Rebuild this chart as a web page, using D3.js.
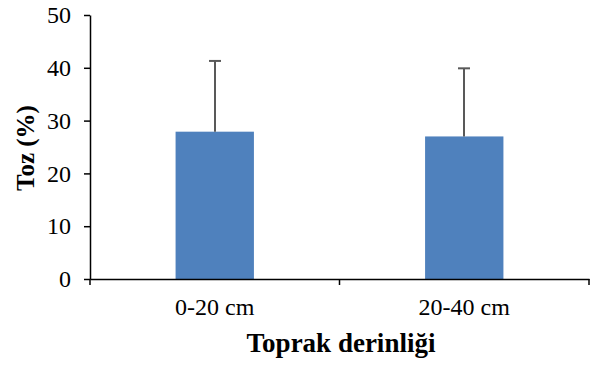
<!DOCTYPE html>
<html><head><meta charset="utf-8">
<script src="https://cdn.jsdelivr.net/npm/d3@7"></script>
<style>body{margin:0;background:#fff}svg{display:block}</style>
</head><body><svg id="c" width="596" height="368"></svg>
<script>
const categories = ["0-20 cm", "20-40 cm"];
const values = [27.9, 27.0];
const errors = [13.4, 12.9];
const yTicks = [0, 10, 20, 30, 40, 50];

const svg = d3.select("#c");
const m = {left: 90, right: 7, top: 15, bottom: 89};
const W = 596, H = 368;
const x = d3.scaleBand().domain(categories).range([m.left, W - m.right]).paddingInner(0.686).paddingOuter(0.343);
const y = d3.scaleLinear().domain([0, 50]).range([H - m.bottom, m.top]);
const font = "'Liberation Serif', 'Times New Roman', serif";

// bars
svg.selectAll("rect.bar").data(categories).enter().append("rect")
  .attr("x", d => x(d)).attr("width", x.bandwidth())
  .attr("y", (d, i) => y(values[i])).attr("height", (d, i) => y(0) - y(values[i]))
  .attr("fill", "#4F81BD");

// error bars
const eg = svg.append("g").attr("stroke", "#595959").attr("stroke-width", 2);
categories.forEach((c, i) => {
  const cx = Math.round(x(c) + x.bandwidth() / 2);
  eg.append("line").attr("x1", cx).attr("x2", cx).attr("y1", y(values[i])).attr("y2", y(values[i] + errors[i]));
  eg.append("line").attr("x1", cx - 6).attr("x2", cx + 6).attr("y1", y(values[i] + errors[i])).attr("y2", y(values[i] + errors[i]));
});

// y axis
const ya = svg.append("g").attr("transform", `translate(${m.left},0)`)
  .call(d3.axisLeft(y).tickValues(yTicks).tickSize(6).tickSizeOuter(0));
ya.select(".domain").attr("stroke", "#000").attr("stroke-width", 1.5);
ya.selectAll(".tick line").attr("stroke", "#000").attr("stroke-width", 1.5);
ya.selectAll(".tick text").attr("font-family", font).attr("font-size", 24).attr("fill", "#000").attr("x", -19);

// x axis
const xa = svg.append("g").attr("transform", `translate(0,${y(0)})`)
  .call(d3.axisBottom(x).tickSize(0).tickSizeOuter(0));
xa.select(".domain").attr("stroke", "#000").attr("stroke-width", 1.5);
xa.selectAll(".tick text").attr("font-family", font).attr("font-size", 24).attr("fill", "#000").attr("dy", 0).attr("y", 36);
// category boundary ticks
const bounds = [m.left, m.left + (W - m.left - m.right) / 2, W - m.right];
xa.selectAll("line.bt").data(bounds).enter().append("line")
  .attr("x1", d => d).attr("x2", d => d).attr("y1", 0).attr("y2", 6)
  .attr("stroke", "#000").attr("stroke-width", 1.5);

// titles
svg.append("text").attr("x", 341).attr("y", 352).attr("text-anchor", "middle")
  .attr("font-family", font).attr("font-weight", "bold").attr("font-size", 27).text("Toprak derinliği");
svg.append("text").attr("transform", "translate(34,148) rotate(-90)").attr("text-anchor", "middle")
  .attr("font-family", font).attr("font-weight", "bold").attr("font-size", 25).text("Toz (%)");
</script></body></html>
